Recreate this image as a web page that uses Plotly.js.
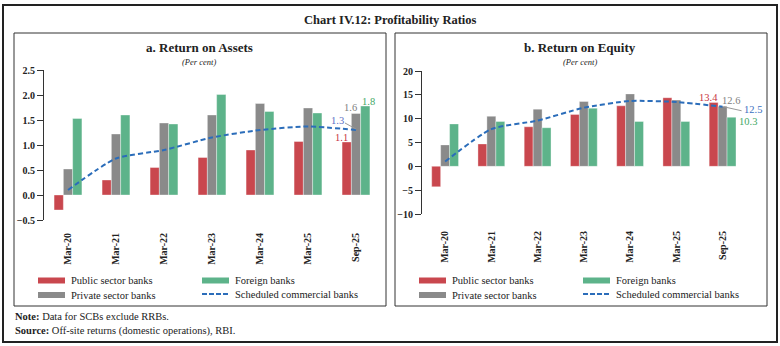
<!DOCTYPE html>
<html><head><meta charset="utf-8">
<script src="https://cdn.plot.ly/plotly-3.0.1.min.js"></script>
<style>html,body{margin:0;padding:0;background:#fff}#chart{width:780px;height:346px}</style>
</head><body><div id="chart"></div>
<script>
const categories = ['Mar-20','Mar-21','Mar-22','Mar-23','Mar-24','Mar-25','Sep-25'];
const roaPublic  = [-0.30, 0.30, 0.55, 0.75, 0.90, 1.07, 1.06];
const roaPrivate = [0.52, 1.22, 1.44, 1.60, 1.83, 1.74, 1.63];
const roaForeign = [1.53, 1.60, 1.42, 2.01, 1.67, 1.64, 1.78];
const roaSCB     = [0.10, 0.73, 0.90, 1.15, 1.30, 1.37, 1.30];
const roePublic  = [-4.3, 4.7, 8.3, 10.9, 12.7, 14.4, 13.4];
const roePrivate = [4.5, 10.5, 12.0, 13.6, 15.2, 13.9, 12.6];
const roeForeign = [8.9, 9.4, 8.1, 12.2, 9.4, 9.4, 10.3];
const roeSCB     = [1.0, 7.8, 9.6, 12.3, 13.7, 13.5, 12.5];
const seriesNames = ['Public sector banks','Private sector banks','Foreign banks','Scheduled commercial banks'];

const W = 780, H = 346;
const fx = p => p / W, fy = p => 1 - p / H;
const C = {red:'#C9474E', grey:'#8A8A8A', green:'#5DB38A', blue:'#2B6DBA'};
const FONT = 'Liberation Serif, DejaVu Serif, serif';

function barTrace(y, color, name, xa, ya){
  return {type:'bar', x:categories, y:y, name:name, xaxis:xa, yaxis:ya,
    marker:{color:color, line:{color:'rgba(255,255,255,0.6)', width:0.6}}, hoverinfo:'skip', showlegend:false};
}
function lineTrace(y, name, xa, ya){
  return {type:'scatter', mode:'lines', x:categories, y:y, name:name, xaxis:xa, yaxis:ya,
    line:{color:C.blue, width:2, dash:'5px,3px', shape:'spline', smoothing:0.6}, hoverinfo:'skip', showlegend:false};
}
const data = [
  barTrace(roaPublic, C.red, seriesNames[0], 'x', 'y'),
  barTrace(roaPrivate, C.grey, seriesNames[1], 'x', 'y'),
  barTrace(roaForeign, C.green, seriesNames[2], 'x', 'y'),
  lineTrace(roaSCB, seriesNames[3], 'x', 'y'),
  barTrace(roePublic, C.red, seriesNames[0], 'x2', 'y2'),
  barTrace(roePrivate, C.grey, seriesNames[1], 'x2', 'y2'),
  barTrace(roeForeign, C.green, seriesNames[2], 'x2', 'y2'),
  lineTrace(roeSCB, seriesNames[3], 'x2', 'y2')
];

const dA = {x:[fx(44), fx(380)], y:[fy(220), fy(70)], r:[-0.5, 2.5]};
const dB = {x:[fx(422), fx(745.7)], y:[fy(214), fy(71)], r:[-10, 20]};
const zeroPos = d => d.y[0] + (0 - d.r[0]) / (d.r[1] - d.r[0]) * (d.y[1] - d.y[0]);

const tickFont = {family:FONT, size:10, color:'#222', weight:'bold'};
function xCat(d, standoff, anchor){
  return {domain:d.x, anchor:anchor, type:'category', categoryorder:'array', categoryarray:categories,
    range:[-0.5, categories.length - 0.5], tickangle:-90, ticks:'', showline:false, showgrid:false,
    zeroline:false, tickfont:tickFont, ticklabelstandoff:standoff, fixedrange:true};
}
function xTicks(d, over){
  return {domain:d.x, overlaying:over, anchor:'free', position:zeroPos(d), type:'linear',
    range:[-0.5, categories.length - 0.5], tick0:-0.5, dtick:1, ticks:'outside', ticklen:6,
    tickcolor:'#333', showline:true, linecolor:'#333', linewidth:1, showticklabels:false,
    showgrid:false, zeroline:false, fixedrange:true};
}
function yAx(d, dtick, fmt, anchor){
  return {domain:d.y, range:d.r, dtick:dtick, tickformat:fmt, anchor:anchor, ticks:'outside', ticklen:6,
    tickcolor:'#333', showline:true, linecolor:'#333', linewidth:1, showgrid:false, zeroline:false,
    tickfont:tickFont, fixedrange:true};
}

const shapes = [
  {type:'rect', xref:'paper', yref:'paper', x0:fx(3), x1:fx(777), y0:fy(342), y1:fy(5), line:{color:'#222', width:2}},
  {type:'rect', xref:'paper', yref:'paper', x0:fx(14), x1:fx(386), y0:fy(306), y1:fy(33), line:{color:'#333', width:1}},
  {type:'rect', xref:'paper', yref:'paper', x0:fx(395), x1:fx(767), y0:fy(306), y1:fy(33), line:{color:'#333', width:1}}
];
const annotations = [
  {text:'<b>Chart IV.12: Profitability Ratios</b>', x:fx(390), y:fy(20), font:{size:12.5}},
  {text:'<b>a. Return on Assets</b>', x:fx(199), y:fy(48), font:{size:13}},
  {text:'<i>(Per cent)</i>', x:fx(199), y:fy(61.5), font:{size:8.5}},
  {text:'<b>b. Return on Equity</b>', x:fx(580), y:fy(48), font:{size:13}},
  {text:'<i>(Per cent)</i>', x:fx(580), y:fy(61.5), font:{size:8.5}},
  {text:'<b>Note:</b> Data for SCBs exclude RRBs.', x:fx(13), y:fy(316.5), xanchor:'left', font:{size:10.5}},
  {text:'<b>Source:</b> Off-site returns (domestic operations), RBI.', x:fx(13), y:fy(331), xanchor:'left', font:{size:10.5}}
].map(a => Object.assign({xref:'paper', yref:'paper', showarrow:false, xanchor:'center', yanchor:'middle'}, a,
  {font:Object.assign({family:FONT, color:'#222'}, a.font)}));

// legends
function legend(x1, x2){
  const rows = [280.5, 295];
  shapes.push({type:'rect', xref:'paper', yref:'paper', x0:fx(x1), x1:fx(x1+27), y0:fy(rows[0]+3), y1:fy(rows[0]-3), fillcolor:C.red, line:{width:0}});
  shapes.push({type:'rect', xref:'paper', yref:'paper', x0:fx(x1), x1:fx(x1+27), y0:fy(rows[1]+3), y1:fy(rows[1]-3), fillcolor:C.grey, line:{width:0}});
  shapes.push({type:'rect', xref:'paper', yref:'paper', x0:fx(x2), x1:fx(x2+27), y0:fy(rows[0]+3), y1:fy(rows[0]-3), fillcolor:C.green, line:{width:0}});
  shapes.push({type:'line', xref:'paper', yref:'paper', x0:fx(x2), x1:fx(x2+27), y0:fy(rows[1]-1), y1:fy(rows[1]-1), line:{color:C.blue, width:2, dash:'5px,2px'}});
  const items = [[x1+31, rows[0], seriesNames[0]], [x1+31, rows[1], seriesNames[1]], [x2+31, rows[0], seriesNames[2]], [x2+31, rows[1]-1, seriesNames[3]]];
  items.forEach(it => annotations.push({xref:'paper', yref:'paper', x:fx(it[0]), y:fy(it[1]), text:it[2], showarrow:false,
    xanchor:'left', yanchor:'middle', font:{family:FONT, size:10.5, color:'#222'}}));
}
legend(38, 202);
legend(419, 583);

// value labels at last period
const last = categories.length - 1, lc = categories[last];
function lab(val, xa, ya, color, dx, dy){
  annotations.push({xref:xa, yref:ya, x:lc, y:val, text:val.toFixed(1), showarrow:false, xshift:dx, yshift:dy,
    xanchor:'center', yanchor:'middle', font:{family:FONT, size:10.5, color:color}});
}
lab(roaPublic[last], 'x', 'y', '#C8343F', -14.5, 5);
lab(roaPrivate[last], 'x', 'y', '#808080', -6, 6);
lab(roaForeign[last], 'x', 'y', '#3FA866', 12, 5);
lab(roaSCB[last], 'x', 'y', '#5C6FC4', -19, 10);
lab(roePublic[last], 'x2', 'y2', '#C8343F', -14, 5);
lab(roePrivate[last], 'x2', 'y2', '#808080', 8, 6);
lab(roeSCB[last], 'x2', 'y2', '#3A6FC0', 30, -3);
lab(roeForeign[last], 'x2', 'y2', '#3FA866', 25, -4);
// leader lines
shapes.push({type:'line', xref:'x', yref:'y', xsizemode:'pixel', ysizemode:'pixel', xanchor:lc, yanchor:roaSCB[last],
  x0:-11, x1:0, y0:7, y1:1, line:{color:'#999', width:1}});
shapes.push({type:'line', xref:'x2', yref:'y2', xsizemode:'pixel', ysizemode:'pixel', xanchor:lc, yanchor:roeSCB[last],
  x0:1, x1:19, y0:0, y1:-4, line:{color:'#999', width:1}});

const layout = {
  width:W, height:H, autosize:false, margin:{l:0, r:0, t:0, b:0},
  paper_bgcolor:'#fff', plot_bgcolor:'rgba(0,0,0,0)', showlegend:false,
  barmode:'group', bargap:0.42, bargroupgap:0,
  font:{family:FONT, color:'#222'},
  xaxis: xCat(dA, 10, 'y'), yaxis: yAx(dA, 0.5, '.1f', 'x'),
  xaxis2: xCat(dB, 14, 'y2'), yaxis2: yAx(dB, 5, 'd', 'x2'),
  xaxis3: xTicks(dA, 'x'), xaxis4: xTicks(dB, 'x2'),
  shapes:shapes, annotations:annotations
};
Plotly.newPlot('chart', data, layout, {displayModeBar:false, staticPlot:true});
</script></body></html>
